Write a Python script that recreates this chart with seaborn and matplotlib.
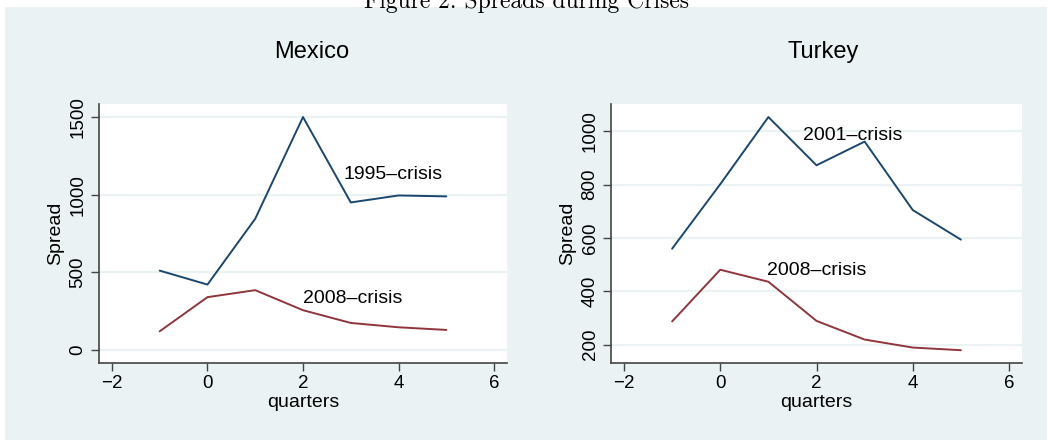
"""
Figure 2: Spreads during Crises (Mexico and Turkey)
"""

import matplotlib.pyplot as plt
import matplotlib.patches as mpatches
import seaborn as sns
import pandas as pd

quarters = [-1, 0, 1, 2, 3, 4, 5]

mexico_1995 = [511, 421, 845, 1500, 950, 995, 989]
mexico_2008 = [120, 340, 385, 256, 174, 146, 129]

turkey_2001 = [560, 802, 1054, 873, 962, 705, 594]
turkey_2008 = [287, 481, 436, 289, 219, 189, 179]

navy = '#1a476f'
maroon = '#90353b'
bg = '#eaf2f3'

sns.set_style('white')
plt.rcParams['font.family'] = ['Liberation Sans', 'DejaVu Sans']
plt.rcParams['text.color'] = 'black'
plt.rcParams['axes.labelcolor'] = 'black'

fig = plt.figure(figsize=(10.52, 4.43), dpi=100)
fig.patch.set_facecolor('white')
fig.patches.append(mpatches.Rectangle((5 / 1052, 3 / 443), 1042 / 1052, 433 / 443,
                                      transform=fig.transFigure, facecolor=bg,
                                      edgecolor='none', zorder=-10))

fig.text(0.5, 0.997, 'Figure 2: Spreads during Crises', ha='center', va='center',
         fontsize=17, family='cmr10')

panels = [
    dict(title='Mexico', tx=312, left=99, right=507, a=mexico_1995, b=mexico_2008,
         la='1995\u2013crisis', lb='2008\u2013crisis',
         pa=(2.84, 1133), pb=(2.0, 333),
         ylim=(-84, 1584), yticks=[0, 500, 1000, 1500]),
    dict(title='Turkey', tx=823, left=611, right=1022, a=turkey_2001, b=turkey_2008,
         la='2001\u2013crisis', lb='2008\u2013crisis',
         pa=(1.72, 984), pb=(0.97, 477),
         ylim=(131, 1103), yticks=[200, 400, 600, 800, 1000]),
]

for p in panels:
    ax = fig.add_axes([p['left'] / 1052, 80 / 443,
                       (p['right'] - p['left']) / 1052, 259 / 443])
    ax.set_zorder(1)
    ax.set_facecolor('white')

    df = pd.DataFrame({
        'quarters': quarters * 2,
        'Spread': p['a'] + p['b'],
        'crisis': [p['la']] * 7 + [p['lb']] * 7,
    })
    sns.lineplot(data=df, x='quarters', y='Spread', hue='crisis',
                 palette=[navy, maroon], linewidth=1.4, legend=False, ax=ax)

    ax.text(*p['pa'], p['la'], ha='left', va='center', fontsize=14)
    ax.text(*p['pb'], p['lb'], ha='left', va='center', fontsize=14)

    ax.set_xlim(-2.27, 6.27)
    ax.set_ylim(*p['ylim'])
    ax.set_xticks([-2, 0, 2, 4, 6])
    ax.set_yticks(p['yticks'])
    ax.yaxis.grid(True, color=bg, linewidth=1.6)
    ax.set_axisbelow(True)

    for s in ['top', 'right']:
        ax.spines[s].set_visible(False)
    for s in ['left', 'bottom']:
        ax.spines[s].set_color('#444444')
        ax.spines[s].set_linewidth(1.2)

    ax.tick_params(axis='both', direction='out', length=6, width=1,
                   color='#444444', labelcolor='black', labelsize=13.5, pad=3,
                   left=True, bottom=True)
    for lbl in ax.get_yticklabels():
        lbl.set_rotation(90)
        lbl.set_va('center')

    ax.set_xlabel('quarters', fontsize=14, labelpad=1)
    ax.set_ylabel('Spread', fontsize=14, labelpad=4)
    fig.text(p['tx'] / 1052, 1 - 52 / 443, p['title'], ha='center', va='center',
             fontsize=17)

plt.savefig('out.png', dpi=100)
